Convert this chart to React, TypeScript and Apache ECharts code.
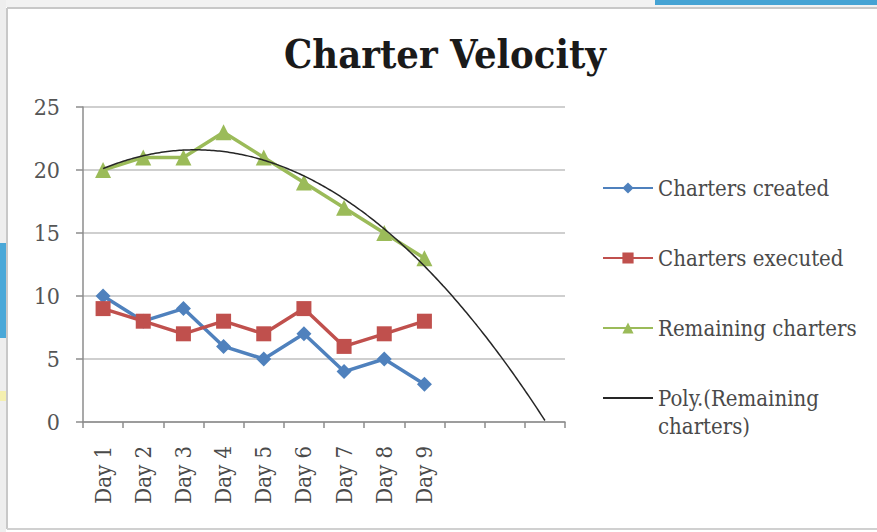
import React, { useEffect, useRef } from "react";
import * as echarts from "echarts";

const categories = ["Day 1", "Day 2", "Day 3", "Day 4", "Day 5", "Day 6", "Day 7", "Day 8", "Day 9", "", "", ""];
const chartersCreated = [10, 8, 9, 6, 5, 7, 4, 5, 3];
const chartersExecuted = [9, 8, 7, 8, 7, 9, 6, 7, 8];
const remainingCharters = [20, 21, 21, 23, 21, 19, 17, 15, 13];
const yMin = 0;
const yMax = 25;
const yInterval = 5;
const forecastForward = 3;

// Excel-style order-2 polynomial trendline (least squares) computed from the data
function polyFit(ys: number[]) {
  const xs = ys.map((_, i) => i + 1);
  const S = (f: (x: number, y: number) => number) => xs.reduce((a, x, i) => a + f(x, ys[i]), 0);
  const n = xs.length;
  const sx = S((x) => x), sx2 = S((x) => x * x), sx3 = S((x) => x ** 3), sx4 = S((x) => x ** 4);
  const sy = S((_, y) => y), sxy = S((x, y) => x * y), sx2y = S((x, y) => x * x * y);
  const M = [
    [n, sx, sx2, sy],
    [sx, sx2, sx3, sxy],
    [sx2, sx3, sx4, sx2y],
  ];
  for (let i = 0; i < 3; i++) {
    for (let k = i + 1; k < 3; k++) {
      const f = M[k][i] / M[i][i];
      for (let j = i; j < 4; j++) M[k][j] -= f * M[i][j];
    }
  }
  const c = [0, 0, 0];
  for (let i = 2; i >= 0; i--) {
    let s = M[i][3];
    for (let j = i + 1; j < 3; j++) s -= M[i][j] * c[j];
    c[i] = s / M[i][i];
  }
  return (x: number) => c[0] + c[1] * x + c[2] * x * x;
}

export default function App() {
  const ref = useRef<HTMLDivElement>(null);
  useEffect(() => {
    if (!ref.current) return;
    document.body.style.margin = "0";
    const chart = echarts.init(ref.current, undefined, { renderer: "svg" });
    const fit = polyFit(remainingCharters);
    const xEnd = remainingCharters.length + forecastForward;
    const trend: number[][] = [];
    for (let k = 0; k <= (xEnd - 1) * 20; k++) {
      const x = 1 + k / 20;
      trend.push([x, fit(x)]);
    }
    const font = '"DejaVu Serif Condensed", "Liberation Serif", serif';
    const legendText = { fontFamily: font, fontSize: 22, color: "#4a4a4a", lineHeight: 28 };
    chart.setOption({
      animation: false,
      backgroundColor: "#ffffff",
      title: {
        text: "Charter Velocity",
        left: 440,
        textAlign: "center",
        top: 29,
        textStyle: { fontFamily: font, fontWeight: "bold", fontSize: 39.5, color: "#1a1a1a" },
      },
      grid: { left: 83, right: 312, top: 107, bottom: 110, containLabel: false },
      xAxis: [
        {
          type: "category",
          data: categories,
          boundaryGap: true,
          axisLine: { lineStyle: { color: "#8c8c8c", width: 1.5 } },
          axisTick: { show: true, length: 6, lineStyle: { color: "#8c8c8c", width: 1.5 } },
          axisLabel: { rotate: 90, margin: 24, fontFamily: font, fontSize: 22, color: "#4a4a4a", interval: 0 },
          splitLine: { show: false },
        },
        {
          type: "value",
          min: 0.5,
          max: categories.length + 0.5,
          show: false,
        },
      ],
      yAxis: {
        type: "value",
        min: yMin,
        max: yMax,
        interval: yInterval,
        axisLine: { show: true, lineStyle: { color: "#8c8c8c", width: 1.5 } },
        axisTick: { show: true, length: 7, lineStyle: { color: "#8c8c8c", width: 1.5 } },
        axisLabel: { margin: 23, fontFamily: font, fontSize: 23, color: "#555555" },
        splitLine: { lineStyle: { color: "#bfbfbf", width: 1.5 } },
      },
      legend: [
        {
          orient: "vertical",
          left: 602,
          top: 174,
          padding: 0,
          itemWidth: 50,
          itemHeight: 14,
          itemGap: 42,
          textStyle: legendText,
          data: ["Charters created", "Charters executed", "Remaining charters"],
          selectedMode: false,
        },
        {
          orient: "vertical",
          left: 602,
          top: 356,
          padding: 0,
          itemWidth: 50,
          itemHeight: 14,
          textStyle: legendText,
          data: [{ name: "Poly.(Remaining charters)", itemStyle: { opacity: 0 } }],
          formatter: () => "\nPoly.(Remaining\ncharters)",
          selectedMode: false,
        },
      ],
      series: [
        {
          name: "Charters created",
          type: "line",
          data: chartersCreated,
          symbol: "diamond",
          symbolSize: 15,
          lineStyle: { color: "#4f81bd", width: 3.5 },
          itemStyle: { color: "#4f81bd" },
          z: 3,
        },
        {
          name: "Charters executed",
          type: "line",
          data: chartersExecuted,
          symbol: "rect",
          symbolSize: 15,
          lineStyle: { color: "#c0504d", width: 3.5 },
          itemStyle: { color: "#c0504d" },
          z: 4,
        },
        {
          name: "Remaining charters",
          type: "line",
          data: remainingCharters,
          symbol: "triangle",
          symbolSize: 16,
          lineStyle: { color: "#9bbb59", width: 3.5 },
          itemStyle: { color: "#9bbb59" },
          z: 5,
        },
        {
          name: "Poly.(Remaining charters)",
          type: "line",
          xAxisIndex: 1,
          data: trend,
          symbol: "none",
          lineStyle: { color: "#262626", width: 1.5 },
          itemStyle: { color: "#262626" },
          z: 6,
        },
      ],
      graphic: [
        { type: "rect", shape: { x: 0, y: 0, width: 877, height: 7 }, style: { fill: "#f2f2f2" }, silent: true },
        { type: "rect", shape: { x: 655, y: 0, width: 222, height: 5 }, style: { fill: "#45a3d4" }, silent: true },
        { type: "rect", shape: { x: 0, y: 0, width: 6, height: 532 }, style: { fill: "#eeeeee" }, silent: true },
        { type: "rect", shape: { x: 0, y: 243, width: 6, height: 95 }, style: { fill: "#4aa8d8" }, silent: true },
        { type: "rect", shape: { x: 0, y: 391, width: 6, height: 10 }, style: { fill: "#f5f0b0" }, silent: true },
        { type: "line", shape: { x1: 7, y1: 8, x2: 877, y2: 8 }, style: { stroke: "#c8c8c8", lineWidth: 2 }, silent: true },
        { type: "line", shape: { x1: 7, y1: 8, x2: 7, y2: 529 }, style: { stroke: "#c8c8c8", lineWidth: 2 }, silent: true },
        { type: "line", shape: { x1: 7, y1: 529, x2: 877, y2: 529 }, style: { stroke: "#d0d0d0", lineWidth: 2 }, silent: true },
      ],
    });
    return () => chart.dispose();
  }, []);
  return <div ref={ref} style={{ position: "absolute", left: 0, top: 0, width: 877, height: 532 }} />;
}
